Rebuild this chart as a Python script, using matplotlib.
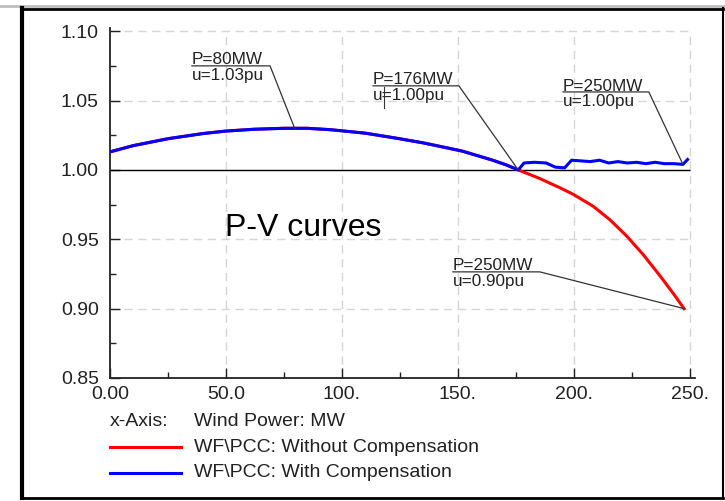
import matplotlib
matplotlib.use("Agg")
import matplotlib.pyplot as plt
from matplotlib.lines import Line2D

plt.rcParams['font.family'] = ['Liberation Sans', 'DejaVu Sans']

# wind power (MW) and PCC voltage (pu), shared part of both curves
p_common = [0, 10, 25, 40, 50, 62, 75, 85, 95, 110, 123, 135, 145, 152, 160,
            165, 171, 176]
v_common = [1.013, 1.0175, 1.0225, 1.0262, 1.028, 1.0293, 1.030, 1.030, 1.029,
            1.0265, 1.023, 1.0195, 1.016, 1.0135, 1.0095, 1.007, 1.0035, 1.000]

# without compensation: voltage keeps falling
p_red = [185, 194, 199.7, 208.3, 215.5, 222.7, 229.9, 237.1, 242.8, 247.5]
v_red = [0.9940, 0.9871, 0.9824, 0.9738, 0.9641, 0.9524, 0.9389, 0.9237,
         0.9110, 0.900]

# with compensation: held near 1.00 pu
p_blue = [178.5, 183, 188, 192, 196, 199, 203, 207, 211, 215, 219, 223, 227,
          231, 235, 239, 243, 247, 249]
v_blue = [1.005, 1.0055, 1.005, 1.002, 1.0015, 1.007, 1.0065, 1.006, 1.007,
          1.005, 1.006, 1.005, 1.0055, 1.0045, 1.0055, 1.0045, 1.0045, 1.004,
          1.0075]

x_ticks = [0, 50, 100, 150, 200, 250]
x_labels = ['0.00', '50.0', '100.', '150.', '200.', '250.']
y_ticks = [0.85, 0.90, 0.95, 1.00, 1.05, 1.10]
y_labels = ['0.85', '0.90', '0.95', '1.00', '1.05', '1.10']

# annotations: (top text, bottom text, text left x, underline y, underline end x, point)
notes = [
    ('P=80MW', 'u=1.03pu', 35.3, 1.075, 69, (79.7, 1.0296)),
    ('P=176MW', 'u=1.00pu', 113.4, 1.0606, 150.4, (176, 1.000)),
    ('P=250MW', 'u=1.00pu', 195.3, 1.0562, 232.3, (247, 1.004)),
    ('P=250MW', 'u=0.90pu', 147.8, 0.9265, 185.3, (247.5, 0.900)),
]

W, H = 725, 501
fig = plt.figure(figsize=(7.25, 5.01), dpi=100)
ax = fig.add_axes([110 / W, 1 - 378 / H, 585 / W, 350 / H])
ax.set_xlim(0, 252.2)
ax.set_ylim(0.85, 1.1023)

for s in ['top', 'right']:
    ax.spines[s].set_visible(False)
for s in ['left', 'bottom']:
    ax.spines[s].set_linewidth(1.3)
    ax.spines[s].set_color('#222222')

# dashed grid, only within the data range
for yv in [0.90, 0.95, 1.05, 1.10]:
    ax.hlines(yv, 0, 250, colors='#d6d6d6', linestyles=(0, (6, 4)), lw=1, zorder=1)
for xv in [50, 100, 150, 200, 250]:
    ax.vlines(xv, 0.85, 1.10, colors='#d6d6d6', linestyles=(0, (6, 4)), lw=1, zorder=1)
ax.hlines(1.0, 0, 250, colors='black', lw=1, zorder=2)

ax.plot(p_common + p_red, v_common + v_red, color='#ff0000', lw=2.2, zorder=3)
ax.plot(p_common + p_blue, v_common + v_blue, color='#0000ff', lw=2.2, zorder=4)

ax.set_xticks(x_ticks)
ax.set_xticklabels(x_labels)
ax.set_yticks(y_ticks)
ax.set_yticklabels(y_labels)
ax.set_xticks([25, 75, 125, 175, 225], minor=True)
ax.set_yticks([0.875, 0.925, 0.975, 1.025, 1.075], minor=True)
ax.tick_params(which='major', direction='in', length=7, width=1, labelsize=14,
               colors='#222222')
ax.tick_params(which='minor', direction='in', length=4, width=1, colors='#222222')
ax.tick_params(axis='y', pad=8)
ax.tick_params(axis='x', pad=6)

for top, bottom, x0, yl, x1, pt in notes:
    ax.annotate(top, (x0, yl), xytext=(0, 1), textcoords='offset points',
                fontsize=12.3, va='baseline', ha='left', color='#222222')
    ax.annotate(bottom, (x0, yl), xytext=(0, -1.5), textcoords='offset points',
                fontsize=12.3, va='top', ha='left', color='#222222')
    ax.plot([x0, x1, pt[0]], [yl, yl, pt[1]], color='#333333', lw=0.9,
            clip_on=False, zorder=5)

fig.text(225 / W, 1 - 228 / H, 'P-V curves', fontsize=23, va='center', ha='left')

# x-axis note and legend under the plot
fig.text(110 / W, 1 - 421 / H, 'x-Axis:', fontsize=14, va='center', color='#222222')
fig.text(194 / W, 1 - 421 / H, 'Wind Power: MW', fontsize=14, va='center', color='#222222')
legend_items = [('#ff0000', 'WF\\PCC: Without Compensation', 447),
                ('#0000ff', 'WF\\PCC: With Compensation', 472.5)]
for col, lab, ypx in legend_items:
    fig.add_artist(Line2D([110 / W, 181 / W], [1 - ypx / H, 1 - ypx / H],
                          color=col, lw=2.2, transform=fig.transFigure))
    fig.text(194 / W, 1 - ypx / H, lab, fontsize=14, va='center', color='#222222')

# cursor mark inside the second label
fig.add_artist(Line2D([384 / W, 384 / W], [1 - 87 / H, 1 - 108 / H],
                      color='#333333', lw=0.8, transform=fig.transFigure))

# outer frame
fig.add_artist(Line2D([0, 1], [1 - 5.5 / H, 1 - 5.5 / H], color='#bdbdbd', lw=2,
                      transform=fig.transFigure))
fig.add_artist(Line2D([21.5 / W, 21.5 / W], [1 - 8 / H, 1 - 498 / H], color='black',
                      lw=3, transform=fig.transFigure))
fig.add_artist(Line2D([21.5 / W, 723 / W], [1 - 8.5 / H, 1 - 8.5 / H], color='black',
                      lw=2, transform=fig.transFigure))
fig.add_artist(Line2D([723 / W, 723 / W], [1 - 8 / H, 1 - 498 / H], color='black',
                      lw=1.5, transform=fig.transFigure))
fig.add_artist(Line2D([21.5 / W, 723 / W], [1 - 498 / H, 1 - 498 / H], color='black',
                      lw=2, transform=fig.transFigure))

fig.savefig('out.png', dpi=100)
